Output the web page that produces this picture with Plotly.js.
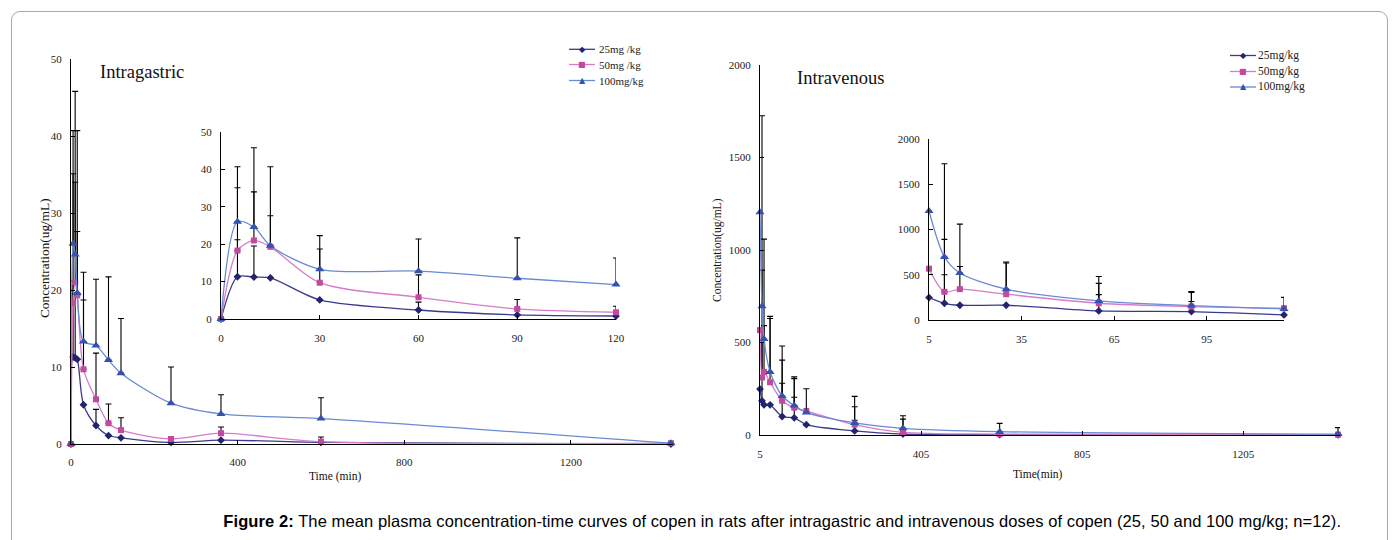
<!DOCTYPE html>
<html>
<head>
<meta charset="utf-8">
<script src="https://cdn.plot.ly/plotly-3.0.1.min.js"></script>
<style>
  html, body { margin: 0; padding: 0; background: #fff; }
  #wrap { position: relative; width: 1399px; height: 540px; overflow: hidden; }
  #frame { position: absolute; left: 11px; top: 11px; width: 1377px; height: 540px;
           border: 1px solid #a8a8a8; border-radius: 9px; box-sizing: border-box; }
  #chart { position: absolute; left: 0; top: 0; width: 1399px; height: 540px; }
</style>
</head>
<body>
<div id="wrap"><div id="frame"></div><div id="chart"></div></div>
<script>
// ---------- Data ----------
const seriesNames = ['25mg /kg', '50mg /kg', '100mg/kg'];
const seriesNamesIV = ['25mg/kg', '50mg/kg', '100mg/kg'];

// Intragastric (min, ug/mL)
const igTime = [0, 5, 10, 15, 30, 60, 90, 120, 240, 360, 600, 1440];
const ig25   = [0, 11.3, 11.2, 11.0, 5.1, 2.4, 1.1, 0.8, 0.2, 0.5, 0.2, 0];
const ig50   = [0, 18.3, 21.0, 19.3, 9.7, 5.8, 2.7, 1.8, 0.65, 1.4, 0.3, 0.1];
const ig100  = [0, 26.0, 24.6, 19.6, 13.3, 12.8, 10.9, 9.2, 5.3, 3.9, 3.3, 0.1];
const ig25Err  = [null, 9.9, 8.3, null, null, 2.1, null, null, null, null, null, null];
const ig50Err  = [null, 16.8, 13.0, 8.3, 9.0, 6.0, 2.5, 1.6, null, 0.8, 0.6, null];
const ig100Err = [null, 14.7, 21.2, 21.1, 9.0, 8.6, 10.8, 7.1, 4.7, 2.5, 2.7, null];

// Intravenous (min, ug/mL)
const ivTime = [5, 10, 15, 30, 60, 90, 120, 240, 360, 600, 1440];
const iv25   = [248, 185, 163, 163, 100, 93, 56, 22, 5, 2, 1];
const iv50   = [567, 311, 341, 285, 185, 148, 130, 56, 14, 5, 2];
const iv100  = [1204, 696, 519, 341, 211, 159, 122, 65, 36, 18, 5];
const iv25Err  = [null, 315, null, null, 180, 111, null, 58, null, null, null];
const iv50Err  = [null, 580, 250, 345, 220, 157, null, 97, 72, null, null];
const iv100Err = [null, 1030, 540, 300, 270, 155, 128, 144, 68, 45, 35];

const igTicksMain = [0, 400, 800, 1200];
const igTicksInset = [0, 30, 60, 90, 120];
const ivTicksMain = [5, 405, 805, 1205];
const ivTicksInset = [5, 35, 65, 95];

// ---------- Styling ----------
const W = 1399, H = 540;
const px = v => v / W;
const py = v => 1 - v / H;
const serif = 'Liberation Serif, Times New Roman, serif';

const styles = [
  { line: '#3a3a8c', marker: '#23236e', symbol: 'diamond', size: 6, glyph: '\u25C6', gsize: 8 },
  { line: '#d67cc8', marker: '#c4489e', symbol: 'square', size: 6, glyph: '\u25A0', gsize: 8 },
  { line: '#6a8ad4', marker: '#3552b0', symbol: 'triangle-up', size: 8, glyph: '\u25B2', gsize: 8 }
];

function cut(arr, time, max) { return arr.filter((_, i) => time[i] <= max); }

function trace(x, y, err, name, st, xa, ya) {
  return {
    type: 'scatter', mode: 'lines+markers', x: x, y: y, name: name,
    xaxis: xa, yaxis: ya, cliponaxis: false, showlegend: false,
    line: { color: st.line, width: 1.3, shape: 'spline', smoothing: 0.8 },
    marker: { symbol: st.symbol, size: st.size, color: st.marker },
    error_y: { type: 'data', symmetric: false, array: err, arrayminus: err.map(() => 0),
               color: '#000', thickness: 1.1, width: 3 }
  };
}

const igSeries = [ig25, ig50, ig100];
const igErrs = [ig25Err, ig50Err, ig100Err];
const ivSeries = [iv25, iv50, iv100];
const ivErrs = [iv25Err, iv50Err, iv100Err];

const traces = [];
for (let i = 0; i < 3; i++) {
  traces.push(trace(igTime, igSeries[i], igErrs[i], seriesNames[i], styles[i], 'x', 'y'));
  traces.push(trace(cut(igTime, igTime, 120), cut(igSeries[i], igTime, 120), cut(igErrs[i], igTime, 120),
                    seriesNames[i], styles[i], 'x2', 'y2'));
  traces.push(trace(ivTime, ivSeries[i], ivErrs[i], seriesNamesIV[i], styles[i], 'x3', 'y3'));
  traces.push(trace(cut(ivTime, ivTime, 120), cut(ivSeries[i], ivTime, 120), cut(ivErrs[i], ivTime, 120),
                    seriesNamesIV[i], styles[i], 'x4', 'y4'));
}

function xax(domain, range, tickvals, anchor, standoff) {
  return { domain: domain, range: range, anchor: anchor, tickmode: 'array', tickvals: tickvals,
           ticktext: tickvals.map(String), showline: true, linecolor: '#000', linewidth: 1,
           ticks: 'inside', ticklen: 4, tickcolor: '#000', showgrid: false, zeroline: false,
           tickfont: { family: serif, size: 11, color: '#222' }, ticklabelstandoff: standoff,
           fixedrange: true };
}
function yax(domain, range, dtick, anchor, standoff) {
  return { domain: domain, range: range, anchor: anchor, dtick: dtick, tick0: 0,
           showline: true, linecolor: '#000', linewidth: 1,
           ticks: 'inside', ticklen: 4, tickcolor: '#000', showgrid: false, zeroline: false,
           tickfont: { family: serif, size: 11, color: '#222' }, ticklabelstandoff: standoff,
           fixedrange: true };
}

// ---------- Custom legends (line sample + symbol glyph + label) ----------
const shapes = [];
const annotations = [];
function addLegend(names, x0, x1, textX, rows, fontSize) {
  names.forEach((nm, i) => {
    const st = styles[i];
    shapes.push({ type: 'line', xref: 'paper', yref: 'paper', x0: px(x0), x1: px(x1), y0: py(rows[i]), y1: py(rows[i]),
                  line: { color: st.line, width: 1.3 } });
    annotations.push({ text: st.glyph, xref: 'paper', yref: 'paper', x: px((x0 + x1) / 2), y: py(rows[i]),
                       xanchor: 'center', yanchor: 'middle', showarrow: false,
                       font: { family: 'DejaVu Sans', size: st.gsize, color: st.marker } });
    annotations.push({ text: nm, xref: 'paper', yref: 'paper', x: px(textX), y: py(rows[i]),
                       xanchor: 'left', yanchor: 'middle', showarrow: false,
                       font: { family: serif, size: fontSize, color: '#222' } });
  });
}
addLegend(seriesNames, 569, 595, 597, [49.3, 64.5, 80.5], 11);
addLegend(seriesNamesIV, 1230, 1256, 1256, [55.5, 71.5, 87], 11.5);

function label(text, x, y, size, angle, anchor) {
  annotations.push({ text: text, xref: 'paper', yref: 'paper', x: px(x), y: py(y),
                     xanchor: anchor || 'center', yanchor: 'middle', textangle: angle || 0,
                     showarrow: false, font: { family: serif, size: size, color: '#111' } });
}
label('Intragastric', 98, 72, 18.5, 0, 'left');
label('Intravenous', 795, 78, 18.5, 0, 'left');
label('Concentration(ug/mL)', 44, 258, 13.3, -90);
label('Time (min)', 335, 476, 11.5);
label('Concentration(ug/mL)', 717, 250, 11.5, -90);
label('Time(min)', 1038, 474, 11.5);
const captionText = '<b>Figure 2:</b> The mean plasma concentration-time curves of copen in rats after intragastric and intravenous doses of copen (25, 50 and 100 mg/kg; n=12).';
annotations.push({ text: captionText,
      xref: 'paper', yref: 'paper', x: px(782), y: py(521), xanchor: 'center', yanchor: 'middle',
      showarrow: false, font: { family: 'Liberation Sans, Arial, sans-serif', size: 16.5, color: '#000' } });

const layout = {
  width: W, height: H, autosize: false,
  margin: { l: 0, r: 0, t: 0, b: 0 },
  paper_bgcolor: 'rgba(0,0,0,0)', plot_bgcolor: 'rgba(0,0,0,0)',
  showlegend: false,
  xaxis:  xax([px(71), px(673)], [0, 1445], igTicksMain, 'y', 8),
  yaxis:  yax([py(444), py(59)], [0, 50], 10, 'x', 6),
  xaxis2: xax([px(221), px(616)], [0, 120], igTicksInset, 'y2', 9),
  yaxis2: yax([py(319), py(132)], [0, 50], 10, 'x2', 6),
  xaxis3: xax([px(760), px(1340)], [5, 1445], ivTicksMain, 'y3', 9),
  yaxis3: yax([py(435), py(65)], [0, 2000], 500, 'x3', 6),
  xaxis4: xax([px(929), px(1284)], [5, 120], ivTicksInset, 'y4', 9),
  yaxis4: yax([py(320), py(139)], [0, 2000], 500, 'x4', 6),
  shapes: shapes,
  annotations: annotations
};

Plotly.newPlot('chart', traces, layout, { displayModeBar: false, staticPlot: true }).then(() => {
  document.querySelectorAll('.annotation-text').forEach(t => {
    if (t.textContent.indexOf('Figure 2') === 0) t.style.letterSpacing = '0.09px';
  });
});
</script>
</body>
</html>
